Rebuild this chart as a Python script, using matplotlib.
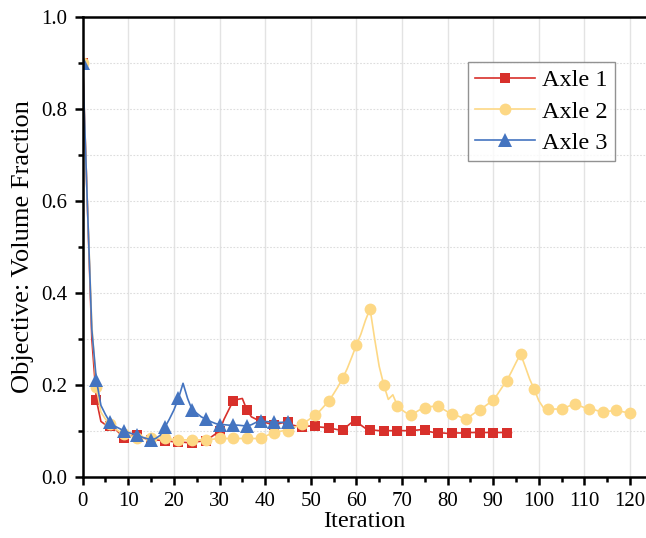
import numpy as np
import matplotlib
matplotlib.use('Agg')
import matplotlib.pyplot as plt
from matplotlib.ticker import MultipleLocator

plt.rcParams['font.family'] = ['Liberation Serif', 'DejaVu Serif']
plt.rcParams['mathtext.fontset'] = 'stix'

# objective value per iteration
axle1 = [0.90, 0.60, 0.30, 0.167, 0.120, 0.113, 0.110, 0.105, 0.095, 0.085,
         0.088, 0.090, 0.090, 0.085, 0.082, 0.080, 0.080, 0.079, 0.078, 0.077,
         0.076, 0.075, 0.075, 0.074, 0.074, 0.076, 0.077, 0.078, 0.085, 0.092,
         0.100, 0.125, 0.145, 0.165, 0.168, 0.170, 0.145, 0.130, 0.125, 0.122,
         0.118, 0.115, 0.112, 0.115, 0.118, 0.118, 0.112, 0.110, 0.109, 0.110,
         0.110, 0.110, 0.108, 0.107, 0.106, 0.104, 0.102, 0.101, 0.110, 0.118,
         0.122, 0.112, 0.105, 0.102, 0.101, 0.100, 0.100, 0.100, 0.100, 0.100,
         0.100, 0.100, 0.100, 0.101, 0.102, 0.102, 0.098, 0.096, 0.095, 0.095,
         0.094, 0.094, 0.095, 0.095, 0.096, 0.096, 0.096, 0.096, 0.096, 0.096,
         0.096, 0.096, 0.096, 0.096, 0.096]
axle2 = [0.90, 0.60, 0.33, 0.194, 0.140, 0.125, 0.115, 0.105, 0.098, 0.093,
         0.090, 0.087, 0.085, 0.085, 0.085, 0.085, 0.084, 0.083, 0.083, 0.082,
         0.081, 0.080, 0.080, 0.080, 0.080, 0.080, 0.080, 0.080, 0.081, 0.082,
         0.083, 0.083, 0.083, 0.083, 0.083, 0.083, 0.083, 0.083, 0.083, 0.083,
         0.088, 0.092, 0.096, 0.098, 0.100, 0.100, 0.105, 0.110, 0.115, 0.120,
         0.127, 0.134, 0.143, 0.154, 0.165, 0.180, 0.196, 0.214, 0.235, 0.260,
         0.286, 0.310, 0.340, 0.365, 0.300, 0.240, 0.200, 0.168, 0.178, 0.154,
         0.145, 0.138, 0.133, 0.140, 0.146, 0.150, 0.152, 0.153, 0.154, 0.147,
         0.141, 0.137, 0.133, 0.129, 0.126, 0.132, 0.139, 0.145, 0.152, 0.159,
         0.166, 0.180, 0.195, 0.209, 0.228, 0.248, 0.267, 0.240, 0.212, 0.190,
         0.165, 0.150, 0.147, 0.147, 0.147, 0.147, 0.151, 0.155, 0.158, 0.154,
         0.150, 0.148, 0.146, 0.143, 0.141, 0.142, 0.143, 0.144, 0.142, 0.140,
         0.139]
axle3 = [0.90, 0.60, 0.32, 0.210, 0.155, 0.135, 0.118, 0.110, 0.105, 0.100,
         0.096, 0.093, 0.090, 0.086, 0.083, 0.080, 0.083, 0.090, 0.107, 0.125,
         0.145, 0.170, 0.203, 0.170, 0.145, 0.138, 0.130, 0.125, 0.120, 0.116,
         0.113, 0.113, 0.112, 0.112, 0.112, 0.111, 0.110, 0.113, 0.118, 0.122,
         0.120, 0.119, 0.118, 0.118, 0.118, 0.118]

series = [
    ('Axle 1', axle1, '#D8302B', 's', 7.5),
    ('Axle 2', axle2, '#FDD885', 'o', 8.5),
    ('Axle 3', axle3, '#4474C0', '^', 9.5),
]

fig = plt.figure(figsize=(6.46, 5.38), dpi=100)
ax = fig.add_axes([0.128, 0.114, 0.872, 0.855])

for label, vals, col, mk, ms in series:
    it = np.arange(len(vals))
    ax.plot(it, vals, color=col, lw=1.2, marker=mk, markersize=ms,
            markevery=3, markeredgewidth=0, label=label)

ax.set_xlim(0, 123.5)
ax.set_ylim(0, 1.0)
ax.xaxis.set_major_locator(MultipleLocator(10))
ax.xaxis.set_minor_locator(MultipleLocator(5))
ax.yaxis.set_major_locator(MultipleLocator(0.2))
ax.yaxis.set_minor_locator(MultipleLocator(0.1))
ax.yaxis.set_major_formatter(matplotlib.ticker.FormatStrFormatter('%.1f'))

ax.grid(axis='x', which='major', color='#e3e3e3', lw=1.0)
ax.grid(axis='y', which='both', color='#dddddd', lw=0.8, linestyle=(0, (1.5, 1.5)))
ax.set_axisbelow(True)

ax.spines['right'].set_visible(False)
for s in ['left', 'bottom', 'top']:
    ax.spines[s].set_linewidth(1.8)
ax.tick_params(which='major', direction='out', length=6, width=1.8,
               labelsize=15, pad=5, top=False, right=False)
ax.tick_params(which='minor', direction='out', length=3.5, width=1.8,
               top=False, right=False)

ax.set_xlabel('Iteration', fontsize=17.5, labelpad=0)
ax.set_ylabel('Objective: Volume Fraction', fontsize=19, labelpad=5)

leg = ax.legend(loc='upper right', bbox_to_anchor=(0.945, 0.9015), fontsize=17.5,
                frameon=True, fancybox=False, edgecolor='#777777',
                handlelength=2.45, borderpad=0.3, labelspacing=0.38,
                handletextpad=0.3, borderaxespad=0)
leg.get_frame().set_linewidth(1.0)

fig.savefig('out.png', dpi=100)
